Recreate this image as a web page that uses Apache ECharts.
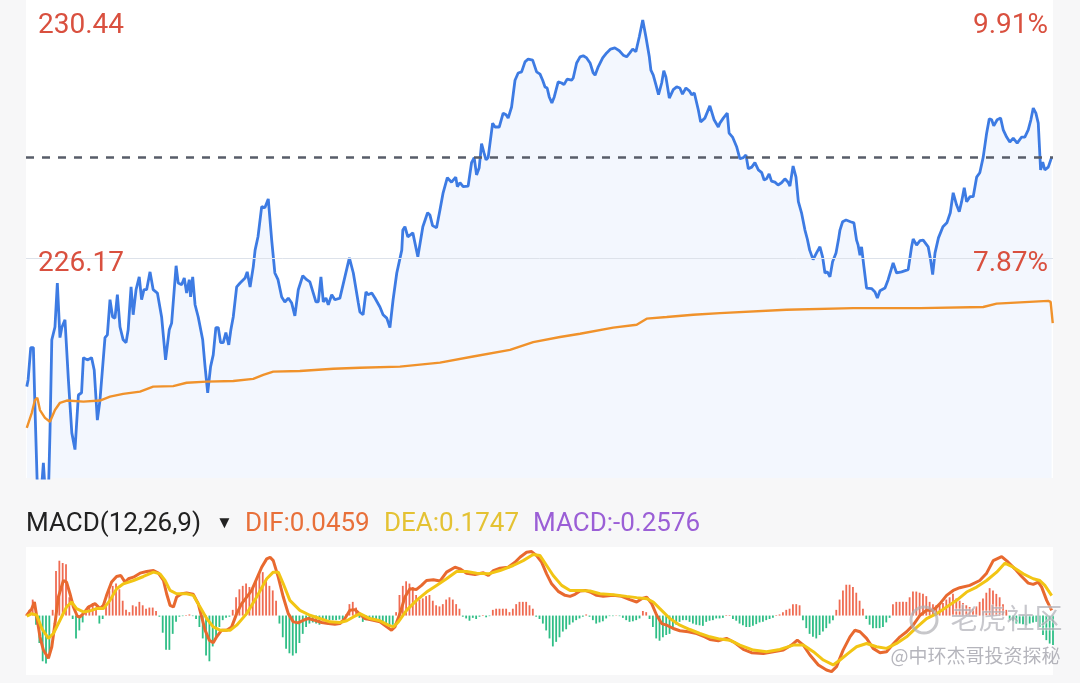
<!DOCTYPE html>
<html><head><meta charset="utf-8">
<script src="https://cdn.jsdelivr.net/npm/echarts/dist/echarts.min.js"></script>
<style>html,body{margin:0;padding:0;background:#f7f7f8;}#c{width:1080px;height:683px;}</style>
</head><body><div id="c"></div>
<script>
// Intraday price (minutes since open) and value
const priceTimes = [
0.3,0.8,1.8,2.8,3.4,4.4,5.7,6.6,7.4,8.5,
9.1,9.8,11.0,11.9,12.9,13.6,14.8,16.1,17.4,18.6,
19.9,21.1,21.8,23.3,24.9,25.9,27.1,28.1,30.0,30.9,
31.9,32.9,33.8,34.7,35.7,36.9,38.0,38.8,39.9,40.7,
41.8,43.0,43.9,44.8,45.8,47.1,48.3,49.9,51.5,53.0,
54.4,55.3,57.0,57.8,59.1,60.1,61.0,62.0,62.5,63.3,
64.2,65.4,67.1,68.0,69.0,70.1,71.1,72.1,73.0,73.9,
74.9,75.9,77.0,77.8,78.7,80.0,81.3,83.2,84.0,85.1,
86.3,87.0,88.1,89.5,90.7,92.0,93.3,94.5,95.7,97.1,
98.3,99.6,100.9,102.1,103.4,105.1,106.6,107.8,109.1,110.1,
111.0,112.0,112.9,113.9,114.8,116.1,117.3,119.2,119.9,121.1,
122.8,124.3,126.2,126.8,128.0,129.1,129.9,131.3,132.5,134.4,
135.6,137.0,138.2,139.4,140.8,142.7,143.1,143.9,145.0,146.9,
148.8,150.7,152.5,153.4,154.4,155.9,157.2,158.4,160.0,161.6,
163.2,163.8,164.8,166.0,167.9,169.2,170.2,171.1,172.1,173.0,
173.9,174.7,175.5,177.2,178.1,179.7,181.2,182.3,183.1,184.4,
185.7,186.9,188.2,189.5,190.7,192.4,193.9,195.2,196.2,197.1,
197.9,198.7,199.7,200.6,202.1,203.4,204.3,205.5,207.2,207.8,
209.1,210.4,211.6,212.9,214.2,215.4,216.1,217.3,219.0,220.5,
222.0,223.6,225.3,226.8,228.1,229.3,230.4,231.6,232.9,234.2,
235.4,236.7,237.3,238.2,239.2,240.2,241.4,242.2,243.0,244.3,
245.8,247.1,248.3,249.3,250.6,251.9,252.8,253.8,255.3,256.2,
257.8,259.7,261.3,262.9,263.5,264.8,266.3,267.0,268.3,269.9,
271.1,272.4,273.4,274.3,275.6,276.8,278.1,279.4,280.3,281.2,
282.2,283.1,284.4,285.6,286.9,288.2,289.4,290.1,291.3,292.4,
293.3,294.5,295.8,296.7,297.6,298.9,300.2,301.5,302.5,303.4,
304.3,305.3,306.3,307.6,308.5,309.1,310.1,311.4,313.1,314.4,
315.4,316.0,316.7,317.3,318.2,319.2,321.1,322.4,323.3,324.3,
326.2,327.4,329.3,330.6,332.5,335.0,336.3,336.9,338.2,339.5,
340.7,342.6,343.5,344.3,345.2,346.5,348.2,349.7,351.0,352.1,
353.4,354.4,355.3,356.3,357.2,358.5,359.7,361.0,362.2,363.5,
364.8,365.8,366.7,367.5,368.8,370.1,371.1,372.4,373.6,374.9,
376.4,378.1,379.3,380.6,381.6,382.5,383.5,384.4,385.3,386.1,
386.9,388.2,389.5
];
const priceValues = [
223.86,223.98,224.56,224.56,223.50,221.90,221.90,222.49,221.90,221.90,
223.03,224.70,224.93,225.72,224.74,224.92,225.06,223.98,223.03,222.73,
223.71,223.75,224.38,224.34,224.38,224.16,223.26,223.62,224.74,224.79,
225.42,225.11,225.09,225.51,224.93,224.70,224.65,224.88,225.65,225.15,
225.60,225.83,225.42,225.60,225.60,225.92,225.60,225.54,225.11,224.34,
224.88,225.00,226.03,225.72,225.69,225.81,225.54,225.78,225.47,225.83,
225.33,225.11,224.70,224.22,223.75,224.22,224.43,224.92,224.92,224.65,
224.65,224.83,224.61,224.88,225.11,225.65,225.72,225.81,225.92,225.65,
226.01,226.31,226.55,227.09,227.07,227.23,226.49,225.90,225.78,225.47,
225.38,225.45,225.36,225.13,225.60,225.85,225.78,225.74,225.54,225.38,
225.38,225.83,225.38,225.45,225.33,225.51,225.42,225.45,225.47,225.83,
226.17,225.90,225.36,225.20,225.15,225.56,225.51,225.54,225.45,225.29,
225.15,225.09,224.92,225.42,225.90,226.31,226.67,226.73,226.55,226.62,
226.19,226.73,226.98,226.94,226.75,226.71,227.03,227.34,227.61,227.53,
227.62,227.45,227.52,227.45,227.46,227.88,227.97,227.66,227.79,228.22,
228.06,227.93,227.97,228.59,228.52,228.52,228.77,228.74,228.68,228.88,
229.36,229.49,229.51,229.69,229.74,229.72,229.51,229.47,229.36,229.24,
229.22,229.06,228.95,229.06,229.33,229.31,229.28,229.38,229.36,229.40,
229.67,229.78,229.80,229.76,229.67,229.49,229.45,229.60,229.76,229.85,
229.92,229.94,229.89,229.81,229.78,229.85,229.92,229.87,230.14,230.44,
230.14,229.78,229.54,229.45,229.28,229.10,229.31,229.53,229.42,229.04,
229.19,229.24,229.22,229.11,229.22,229.17,229.10,229.13,228.83,228.61,
228.68,228.90,228.65,228.52,228.59,228.68,228.77,228.41,228.34,228.16,
227.95,227.97,228.02,227.77,227.80,227.88,227.75,227.70,227.57,227.59,
227.68,227.55,227.53,227.48,227.52,227.59,227.53,227.46,227.82,227.62,
227.18,226.98,226.67,226.51,226.31,226.14,226.26,226.37,226.19,225.90,
225.92,225.83,226.10,226.26,226.49,226.67,226.82,226.85,226.82,226.80,
226.49,226.40,226.22,226.37,226.01,225.63,225.62,225.56,225.45,225.58,
225.63,225.78,226.08,225.90,225.92,225.96,226.37,226.51,226.40,226.48,
226.49,226.37,226.14,225.87,226.26,226.53,226.73,226.80,226.98,227.34,
227.12,227.00,227.18,227.43,227.18,227.27,227.27,227.62,227.70,227.98,
228.41,228.67,228.65,228.54,228.65,228.68,228.47,228.34,228.25,228.32,
228.23,228.34,228.34,228.47,228.65,228.86,228.77,228.59,227.75,227.89,
227.75,227.80,227.98
];
// Average price line
const avgTimes = [0.3,2.2,3.4,4.3,5.3,7.2,9.1,11.0,12.9,15.5,21.8,28.1,31.9,36.9,43.3,48.3,55.9,61.0,68.6,78.7,86.3,90.1,93.9,104.0,116.7,126.8,142.0,157.2,169.8,183.8,192.6,202.8,210.4,223.0,231.9,235.7,243.3,253.4,263.5,288.8,314.1,339.5,363.5,368.6,388.2,389.1,389.9];
const avgValues = [223.12,223.39,223.62,223.66,223.44,223.30,223.23,223.44,223.57,223.61,223.59,223.61,223.68,223.73,223.77,223.86,223.87,223.93,223.95,223.96,224.00,224.07,224.13,224.14,224.18,224.20,224.22,224.29,224.40,224.52,224.66,224.75,224.81,224.92,224.97,225.08,225.11,225.15,225.18,225.24,225.27,225.27,225.29,225.35,225.40,225.38,225.00];

// Reference levels and labels
const axisHigh = 230.44, axisMid = 226.17, refLevel = 227.98;
const labelLeft = ['230.44', '226.17'];
const labelRight = ['9.91%', '7.87%'];

// MACD histogram (evenly spaced bars)
const macdHist = [
0.01,0.05,0.14,-0.08,-0.24,-0.40,-0.42,-0.35,0.05,0.39,
0.48,0.46,0.45,0.16,-0.03,-0.20,-0.13,-0.06,0.03,0.09,
0.11,0.07,-0.07,-0.03,0.09,0.22,0.26,0.28,0.23,0.13,
0.05,0.03,0.09,0.08,0.12,0.09,0.06,0.07,0.07,0.04,
-0.01,-0.15,-0.30,-0.30,-0.16,-0.055,-0.01,-0.005,0.005,0.01,
-0.005,-0.03,-0.10,-0.20,-0.35,-0.40,-0.27,-0.19,-0.10,-0.04,
-0.02,-0.01,0.05,0.16,0.23,0.26,0.28,0.25,0.24,0.31,
0.37,0.38,0.32,0.26,0.22,0.13,-0.07,-0.19,-0.29,-0.33,
-0.35,-0.33,-0.24,-0.16,-0.10,-0.07,-0.06,-0.07,-0.08,-0.04,
-0.04,-0.04,-0.04,-0.04,-0.035,-0.03,0.01,0.10,0.12,0.07,
-0.02,-0.055,-0.04,-0.03,-0.03,-0.035,-0.04,-0.05,-0.07,-0.09,
-0.08,0.03,0.18,0.26,0.30,0.28,0.25,0.18,0.14,0.15,
0.17,0.18,0.13,0.09,0.08,0.10,0.14,0.16,0.14,0.10,
0.06,-0.01,-0.025,-0.045,-0.02,-0.03,-0.01,0.005,-0.015,-0.005,
0.05,0.06,0.06,0.06,0.06,0.03,0.06,0.10,0.12,0.12,
0.12,0.09,0.06,-0.01,-0.03,-0.07,-0.13,-0.20,-0.27,-0.23,
-0.19,-0.14,-0.12,-0.08,-0.06,-0.04,-0.025,-0.01,0.01,-0.01,
-0.04,-0.07,-0.06,-0.05,-0.025,-0.005,-0.005,0.003,-0.005,-0.02,
-0.04,-0.055,-0.05,-0.04,-0.025,0.04,0.03,-0.03,-0.10,-0.20,
-0.22,-0.19,-0.17,-0.16,-0.12,-0.08,-0.055,-0.04,-0.04,-0.055,
-0.07,-0.08,-0.085,-0.09,-0.055,-0.045,-0.04,-0.025,
-0.025,-0.02,0.005,0.005,-0.03,-0.045,-0.07,-0.085,-0.10,-0.10,
-0.09,-0.075,-0.06,-0.055,-0.04,-0.03,-0.02,0.005,0.01,0.03,
0.05,0.06,0.10,0.10,0.09,-0.04,-0.11,-0.16,-0.185,-0.20,
-0.17,-0.14,-0.11,-0.07,-0.04,0.05,0.14,0.22,0.27,0.27,
0.25,0.20,0.13,0.06,-0.03,-0.08,-0.11,-0.11,-0.11,-0.10,
-0.06,-0.02,0.10,0.12,0.12,0.12,0.12,0.16,0.21,0.21,
0.20,0.19,0.17,0.12,0.10,0.09,0.09,0.11,0.14,0.16,
0.19,0.15,0.13,0.11,0.09,0.075,0.06,0.08,0.12,0.15,
0.20,0.24,0.22,0.19,0.16,0.10,0.05,-0.04,-0.05,-0.07,
-0.07,-0.075,-0.085,-0.07,-0.06,-0.055,-0.10,-0.17,-0.215,-0.245,
-0.2576
];
// DIF line
const difTimes = [
0.3,2.2,3.2,4.1,5.3,6.6,8.5,9.8,11.0,12.3,
14.2,15.4,16.7,18.0,19.5,20.5,21.8,23.7,26.2,28.1,
29.4,30.6,32.5,34.4,36.0,37.6,38.9,40.8,43.3,45.8,
48.4,50.3,52.2,53.4,54.7,56.0,57.2,59.1,61.0,63.5,
65.4,66.7,68.0,69.6,71.1,72.4,74.3,76.2,78.1,80.0,
81.9,83.8,85.7,87.6,89.5,91.4,92.7,93.9,95.8,97.7,
99.6,101.5,103.4,105.3,107.2,109.7,112.3,114.8,117.3,119.2,
121.1,123.0,124.9,126.8,128.7,131.9,134.4,137.0,138.8,140.1,
142.0,143.9,145.8,148.3,150.2,152.1,154.7,157.2,159.7,162.9,
164.8,167.3,170.5,173.7,175.6,177.5,180.0,183.1,185.7,187.6,
190.1,192.0,193.9,195.8,197.7,199.6,202.1,204.7,206.6,208.5,
210.4,212.3,214.2,216.7,219.2,223.0,226.2,229.3,231.9,233.8,
235.7,237.6,239.5,241.4,243.3,245.8,248.3,251.5,254.7,257.8,
259.7,262.9,266.0,269.2,272.4,275.5,280.0,283.8,287.6,290.7,
292.9,295.2,297.7,300.9,304.0,305.9,307.8,310.3,312.9,314.8,
316.7,319.2,321.7,324.3,326.8,329.3,331.9,334.4,336.9,339.5,
342.0,344.5,347.1,349.6,352.1,354.6,358.4,362.2,364.8,367.3,
370.5,373.0,375.5,378.1,380.6,382.5,384.4,385.7,387.6,389.5
];
const difValues = [
0.003,0.061,0.119,-0.012,-0.186,-0.302,-0.374,-0.273,-0.070,0.162,
0.307,0.293,0.191,0.075,-0.006,-0.012,0.017,0.075,0.104,0.061,
0.090,0.177,0.293,0.342,0.351,0.293,0.322,0.336,0.371,0.386,
0.394,0.371,0.307,0.191,0.090,0.075,0.162,0.191,0.197,0.186,
0.104,-0.012,-0.128,-0.215,-0.238,-0.186,-0.128,-0.128,-0.099,0.017,
0.104,0.162,0.220,0.322,0.423,0.496,0.510,0.481,0.336,0.162,
0.017,-0.055,-0.064,-0.041,-0.026,-0.041,-0.061,-0.070,-0.075,-0.070,
-0.026,0.046,0.052,0.012,-0.026,-0.041,-0.055,-0.099,-0.128,-0.099,
0.017,0.162,0.235,0.229,0.264,0.307,0.313,0.302,0.380,0.423,
0.409,0.371,0.360,0.374,0.351,0.394,0.415,0.423,0.467,0.510,
0.554,0.560,0.525,0.467,0.365,0.278,0.212,0.177,0.168,0.186,
0.215,0.220,0.206,0.177,0.168,0.177,0.168,0.139,0.119,0.148,
0.162,0.104,0.003,-0.070,-0.084,-0.113,-0.133,-0.142,-0.157,-0.186,
-0.209,-0.220,-0.200,-0.238,-0.296,-0.325,-0.331,-0.316,-0.302,-0.258,
-0.215,-0.258,-0.345,-0.432,-0.476,-0.490,-0.447,-0.302,-0.186,-0.128,
-0.142,-0.200,-0.287,-0.325,-0.316,-0.249,-0.186,-0.142,-0.084,0.003,
0.046,0.046,0.104,0.177,0.220,0.244,0.264,0.307,0.371,0.481,
0.516,0.467,0.409,0.342,0.284,0.273,0.293,0.249,0.133,0.0459
];
// DEA line
const deaTimes = [
0.3,2.2,4.1,6.0,8.5,10.4,12.9,15.4,17.3,19.2,
21.8,24.3,26.8,29.4,31.9,34.4,37.0,40.8,44.6,48.4,
50.9,52.8,54.7,57.2,61.0,63.5,66.1,68.6,71.1,73.7,
77.5,80.0,83.8,87.6,91.4,93.9,95.8,97.7,100.2,104.0,
107.8,111.6,115.4,119.2,121.8,124.3,126.8,130.6,134.4,137.6,
139.5,141.4,144.5,148.3,152.1,155.9,159.7,163.5,167.3,171.1,
175.6,180.0,185.0,188.8,192.6,195.2,197.7,200.2,203.4,206.6,
210.4,214.2,218.0,223.0,228.1,231.9,235.7,238.2,240.7,244.5,
248.3,252.1,255.9,259.7,263.5,267.3,271.1,276.2,281.2,286.3,
291.4,295.2,299.0,302.8,306.5,309.1,312.2,315.4,319.2,323.0,
326.8,330.6,334.4,338.2,342.0,345.8,349.6,353.4,357.2,361.0,
364.8,368.6,371.7,374.9,378.7,382.5,385.0,386.9,389.5
];
const deaValues = [
-0.006,0.017,0.003,-0.113,-0.200,-0.157,-0.041,0.075,0.119,0.061,
0.032,0.041,0.061,0.061,0.133,0.235,0.278,0.307,0.342,0.380,
0.365,0.307,0.220,0.191,0.191,0.177,0.075,-0.026,-0.099,-0.128,
-0.128,-0.084,0.017,0.162,0.322,0.380,0.380,0.278,0.133,0.046,
0.003,-0.026,-0.055,-0.061,-0.046,-0.012,0.017,-0.026,-0.046,-0.084,
-0.099,-0.055,0.046,0.133,0.206,0.264,0.322,0.386,0.386,0.371,
0.365,0.394,0.438,0.481,0.534,0.525,0.438,0.351,0.264,0.220,
0.220,0.215,0.191,0.183,0.168,0.157,0.148,0.119,0.061,-0.026,
-0.084,-0.122,-0.157,-0.186,-0.206,-0.215,-0.258,-0.302,-0.316,-0.296,
-0.258,-0.258,-0.316,-0.389,-0.432,-0.389,-0.331,-0.273,-0.244,-0.273,
-0.287,-0.244,-0.186,-0.104,-0.026,0.017,0.075,0.133,0.206,0.249,
0.307,0.380,0.458,0.423,0.365,0.322,0.307,0.264,0.1747
];
const macdHeader = {title: 'MACD(12,26,9)', dif: 'DIF:0.0459', dea: 'DEA:0.1747', macd: 'MACD:-0.2576'};

const zip = (a, b) => a.map((t, i) => [t, b[i]]);
const barSlots = macdHist.map((_, i) => i);

const chart = echarts.init(document.getElementById('c'));
const FONT = 'Roboto, "Noto Sans", sans-serif';
const red = '#d9503f';
chart.setOption({
  animation: false,
  backgroundColor: '#f7f7f8',
  grid: [
    {left: 26, right: 27, top: 0, height: 478, show: true, backgroundColor: '#ffffff', borderWidth: 0},
    {left: 26, right: 27, top: 547, height: 128, show: true, backgroundColor: '#ffffff', borderWidth: 0}
  ],
  xAxis: [
    {gridIndex: 0, type: 'value', min: 0, max: 390, show: false},
    {gridIndex: 1, type: 'value', min: 0, max: 390, show: false},
    {gridIndex: 1, type: 'category', boundaryGap: false, data: barSlots, show: false}
  ],
  yAxis: [
    {gridIndex: 0, type: 'value', min: 222.22, max: 230.80, show: false},
    {gridIndex: 1, type: 'value', min: -0.52, max: 0.60, show: false}
  ],
  series: [
    {type: 'line', xAxisIndex: 0, yAxisIndex: 0, data: zip(priceTimes, priceValues), showSymbol: false,
     lineStyle: {color: '#3d7be3', width: 2.8}, areaStyle: {color: '#eef4fd', origin: 'start'}, z: 3,
     markLine: {symbol: 'none', silent: true, label: {show: false}, animation: false,
       data: [
         {yAxis: refLevel, lineStyle: {type: [8, 8], color: '#585d69', width: 2.5}},
         {yAxis: axisMid, lineStyle: {type: 'solid', color: '#dde2ea', width: 1}}
       ]}},
    {type: 'line', xAxisIndex: 0, yAxisIndex: 0, data: zip(avgTimes, avgValues), showSymbol: false,
     lineStyle: {color: '#f0922b', width: 2.4}, z: 4},
    {type: 'bar', xAxisIndex: 2, yAxisIndex: 1, data: macdHist, barWidth: 1.8,
     itemStyle: {color: p => p.value >= 0 ? '#ef6b52' : '#2fbe86'}},
    {type: 'line', xAxisIndex: 1, yAxisIndex: 1, data: zip(difTimes, difValues), showSymbol: false,
     lineStyle: {color: '#e8692f', width: 3}, z: 4},
    {type: 'line', xAxisIndex: 1, yAxisIndex: 1, data: zip(deaTimes, deaValues), showSymbol: false,
     lineStyle: {color: '#f2c514', width: 3}, z: 5}
  ],
  graphic: [
    {type: 'text', left: 38, top: 12, z: 10, style: {text: labelLeft[0], font: '28px ' + FONT, fill: red}},
    {type: 'text', left: 38, top: 250, z: 10, style: {text: labelLeft[1], font: '28px ' + FONT, fill: red}},
    {type: 'text', right: 32, top: 12, z: 10, style: {text: labelRight[0], font: '28px ' + FONT, fill: red}},
    {type: 'text', right: 32, top: 250, z: 10, style: {text: labelRight[1], font: '28px ' + FONT, fill: red}},
    {type: 'text', left: 26, top: 511, style: {text: macdHeader.title, font: '26px ' + FONT, fill: '#222222'}},
    {type: 'text', left: 216, top: 515, style: {text: '▼', font: '17px ' + FONT, fill: '#222222'}},
    {type: 'text', left: 245, top: 511, style: {text: macdHeader.dif, font: '26px ' + FONT, fill: '#e8703a'}},
    {type: 'text', left: 384, top: 511, style: {text: macdHeader.dea, font: '26px ' + FONT, fill: '#e4c233'}},
    {type: 'text', left: 533, top: 511, style: {text: macdHeader.macd, font: '26px ' + FONT, fill: '#9b5fd6'}},
    {type: 'circle', shape: {cx: 924, cy: 620, r: 13}, z: 20, style: {fill: 'none', stroke: 'rgba(175,175,180,0.7)', lineWidth: 3}},
    {type: 'text', left: 950, top: 604, z: 20, style: {text: '老虎社区', font: '28px "Noto Sans CJK SC"', fill: 'rgba(175,175,182,0.7)', stroke: 'rgba(255,255,255,0.5)', lineWidth: 1}},
    {type: 'text', left: 890, top: 646, z: 20, style: {text: '@中环杰哥投资探秘', font: '19px "Noto Sans CJK SC"', fill: 'rgba(150,150,160,0.7)', stroke: 'rgba(255,255,255,0.6)', lineWidth: 1}}
  ]
});
</script></body></html>
